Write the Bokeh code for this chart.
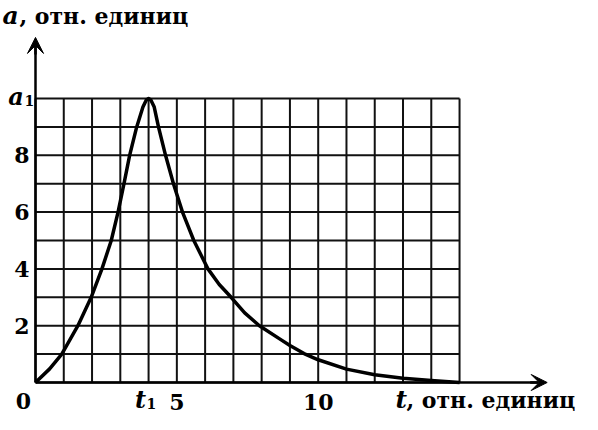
from bokeh.plotting import figure
from bokeh.models import Range1d, FixedTicker, Label, Arrow, VeeHead, LinearAxis
from bokeh.embed import file_html
from bokeh.resources import INLINE

# ---- data ----
t_vals = [0, 0.5, 0.93, 1.5, 1.97, 2.35, 2.68, 2.92, 3.13, 3.33, 3.58, 3.8, 3.92, 4.0,
          4.08, 4.2, 4.35, 4.6, 4.88, 5.2, 5.6, 6.1, 6.5, 6.92, 7.4, 7.92, 8.69,
          9.0, 9.5, 10, 11, 12, 13, 14, 15]
a_vals = [0, 0.48, 1.0, 2.0, 3.0, 4.0, 5.0, 6.0, 7.0, 8.0, 9.0, 9.7, 9.95, 10.0,
          9.95, 9.7, 9.0, 8.0, 7.0, 6.0, 5.0, 4.0, 3.45, 3.0, 2.45, 2.0, 1.5,
          1.3, 1.02, 0.8, 0.47, 0.27, 0.15, 0.07, 0.0]
grid_x = list(range(0, 16))
grid_y = list(range(0, 11))
y_ticks = [2, 4, 6, 8]
x_ticks = [5, 10]
t1 = 4
a1 = 10
x_arrow_end = 18.1
y_arrow_end = 12.15

# ---- layout ----
W, H = 582, 414
PX0, PY0 = 35, 382      # canvas pixel of the origin
SX, SY = 28.27, 28.4    # pixels per unit
LBL_FIX = 9             # labels render this much lower than their anchor


def dx(px):
    # reference-picture pixel -> data x
    return (px - 41) / SX


def dy(py):
    # reference-picture pixel -> data y
    return (397 - py) / SY


p = figure(width=W, height=H,
           x_range=Range1d(-PX0 / SX, (W - PX0) / SX),
           y_range=Range1d(-(H - PY0) / SY, PY0 / SY),
           output_backend="svg", toolbar_location=None,
           x_axis_type=None, y_axis_type=None, min_border=0)
p.outline_line_color = None
p.background_fill_color = "white"
p.border_fill_color = "white"

FONT = "DejaVu Serif"
FS = "22px"

# grid
gx_max = max(grid_x)
gy_max = max(grid_y)
p.segment(x0=grid_x, y0=0, x1=grid_x, y1=gy_max, line_color="#111111", line_width=2)
p.segment(x0=0, y0=grid_y, x1=gx_max, y1=grid_y, line_color="#111111", line_width=2)

# curve
p.line(t_vals, a_vals, line_color="black", line_width=3.5, line_join="round")

# axes
xaxis = LinearAxis(ticker=FixedTicker(ticks=x_ticks), fixed_location=0,
                   bounds=(0, x_arrow_end - 0.3),
                   axis_line_width=2.5, axis_line_color="black",
                   major_tick_line_color=None, minor_tick_line_color=None,
                   major_label_text_font=FONT, major_label_text_font_style="bold",
                   major_label_text_font_size=FS, major_label_text_color="black",
                   major_label_standoff=5)
yaxis = LinearAxis(ticker=FixedTicker(ticks=y_ticks), fixed_location=0,
                   bounds=(0, y_arrow_end - 0.3),
                   axis_line_width=2.5, axis_line_color="black",
                   major_tick_line_color=None, minor_tick_line_color=None,
                   major_label_text_font=FONT, major_label_text_font_style="bold",
                   major_label_text_font_size=FS, major_label_text_color="black",
                   major_label_standoff=0)
p.add_layout(xaxis, "below")
p.add_layout(yaxis, "left")

p.add_layout(Arrow(end=VeeHead(size=16, fill_color="black", line_color="black"),
                   x_start=x_arrow_end - 0.6, y_start=0, x_end=x_arrow_end, y_end=0,
                   line_width=2.5, line_color="black"))
p.add_layout(Arrow(end=VeeHead(size=16, fill_color="black", line_color="black"),
                   x_start=0, y_start=y_arrow_end - 0.6, x_end=0, y_end=y_arrow_end,
                   line_width=2.5, line_color="black"))


def lab(text, px, py, style="bold", size=FS, align="left"):
    p.add_layout(Label(x=dx(px), y=dy(py - LBL_FIX), text=text, text_font=FONT,
                       text_font_style=style, text_font_size=size, text_color="black",
                       text_align=align, text_baseline="alphabetic"))


# "0"
lab("0", 29, 424, align="center")
# t1
lab("t", 146, 423, style="bold italic", size="24px", align="center")
lab("1", 152, 427, size="14px")
# a1
lab("a", 21.5, 120, style="bold italic", size="24px", align="center")
lab("1", 30, 124, size="14px")
# axis titles
lab("a", 8, 39, style="bold italic", size="25px")
lab(", отн. единиц", 25, 39, size="22px")
lab("t", 401, 423, style="bold italic", size="25px")
lab(", отн. единиц", 412, 423, size="22px")

open("out.html", "w").write(file_html(p, INLINE))
